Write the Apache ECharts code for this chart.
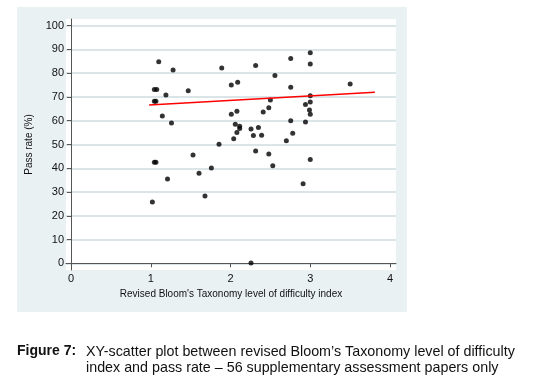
<!DOCTYPE html>
<html>
<head>
<meta charset="utf-8">
<script src="https://cdn.jsdelivr.net/npm/echarts@6/dist/echarts.min.js"></script>
<style>
  html, body { margin: 0; padding: 0; background: #fff; }
  #mychart { width: 559px; height: 381px; }
</style>
</head>
<body>
<div id="mychart"></div>
<script>
"use strict";
// difficulty index (x) and pass rate % (y)
const bloomIndex = [
    1.10, 1.28, 1.89, 1.045, 1.075, 1.19, 1.47, 2.01, 2.09, 1.045,
    1.065, 1.145, 1.26, 2.01, 2.08, 2.06, 2.115, 2.115, 2.08, 2.04,
    1.856, 1.53, 2.257, 3.0, 2.755, 3.0, 2.315, 2.557, 2.755, 3.50,
    3.0, 2.50, 3.0, 2.94, 2.41, 2.48, 2.99, 3.0, 2.755, 2.94,
    2.35, 2.287, 2.39, 2.78, 2.70, 2.315, 2.48, 3.0, 2.53, 1.76,
    1.605, 2.91, 1.68, 2.257, 1.045, 1.065, 1.21, 1.02
];
const passRate = [
    84.8, 81.4, 82.2, 73.2, 73.2, 70.8, 72.6, 75.0, 76.2, 68.2,
    68.2, 62.0, 59.0, 62.7, 64.0, 58.5, 57.7, 56.7, 55.0, 52.4,
    50.1, 45.6, 56.5, 88.6, 86.2, 83.9, 83.2, 79.0, 74.1, 75.5,
    70.5, 68.7, 67.9, 66.8, 63.7, 65.5, 64.5, 62.7, 60.0, 59.5,
    57.2, 53.8, 53.9, 54.7, 51.6, 47.3, 46.0, 43.7, 41.1, 40.1,
    37.9, 33.5, 28.3, 0.1, 42.5, 42.5, 35.5, 25.8
];
// fitted line end points
const fitX = [0.98, 3.81];
const fitY = [66.6, 72.0];
const xTicks = [0, 1, 2, 3, 4];
const yTicks = [0, 10, 20, 30, 40, 50, 60, 70, 80, 90, 100];

const container = document.getElementById('mychart');
const myChart = echarts.init(container);
const font = 'Liberation Sans, Arial, sans-serif';

const option = {
    animation: false,
    backgroundColor: '#fff',
    graphic: [
        {
            type: 'rect', z: -10, silent: true,
            shape: { x: 17, y: 7, width: 390, height: 305 },
            style: { fill: '#eaf1f3' }
        },
        {
            type: 'text', left: 17, top: 344,
            style: { text: 'Figure 7:', font: 'bold 14px ' + font, fill: '#111' }
        },
        {
            type: 'text', left: 86, top: 344,
            style: {
                text: 'XY-scatter plot between revised Bloom’s Taxonomy level of difficulty\nindex and pass rate – 56 supplementary assessment papers only',
                font: '14.3px ' + font, fill: '#111', lineHeight: 16
            }
        }
    ],
    grid: {
        left: 66, top: 19, width: 330, height: 251,
        show: true, backgroundColor: '#fff', borderWidth: 0
    },
    xAxis: {
        type: 'value',
        min: -0.0627,
        max: 4.075,
        name: "Revised Bloom's Taxonomy level of difficulty index",
        nameLocation: 'middle',
        nameGap: 19,
        nameTextStyle: { fontFamily: font, fontSize: 10, color: '#111' },
        axisLine: { show: true, lineStyle: { color: '#555', width: 1 } },
        axisTick: { show: true, length: 4, customValues: xTicks, lineStyle: { color: '#555' } },
        axisLabel: { customValues: xTicks, margin: 3, fontFamily: font, fontSize: 11, color: '#111' },
        splitLine: { show: false }
    },
    yAxis: {
        type: 'value',
        min: -2.82,
        max: 102.82,
        name: 'Pass rate (%)',
        nameLocation: 'middle',
        nameGap: 32,
        nameTextStyle: { fontFamily: font, fontSize: 10, color: '#111' },
        axisLine: { show: true, lineStyle: { color: '#555', width: 1 } },
        axisTick: { show: true, length: 4, customValues: yTicks, lineStyle: { color: '#555' } },
        axisLabel: { customValues: yTicks, margin: 2, fontFamily: font, fontSize: 11, color: '#111' },
        splitLine: { show: true, lineStyle: { color: '#cfdce1', width: 1.5 } }
    },
    series: [
        {
            type: 'scatter',
            symbolSize: 5,
            itemStyle: { color: '#000' },
            data: bloomIndex.map((x, i) => [x, passRate[i]])
        },
        {
            type: 'line',
            symbol: 'none',
            z: 3,
            lineStyle: { color: '#f00', width: 1.5 },
            data: fitX.map((x, i) => [x, fitY[i]])
        }
    ]
};
myChart.setOption(option);
</script>
</body>
</html>
